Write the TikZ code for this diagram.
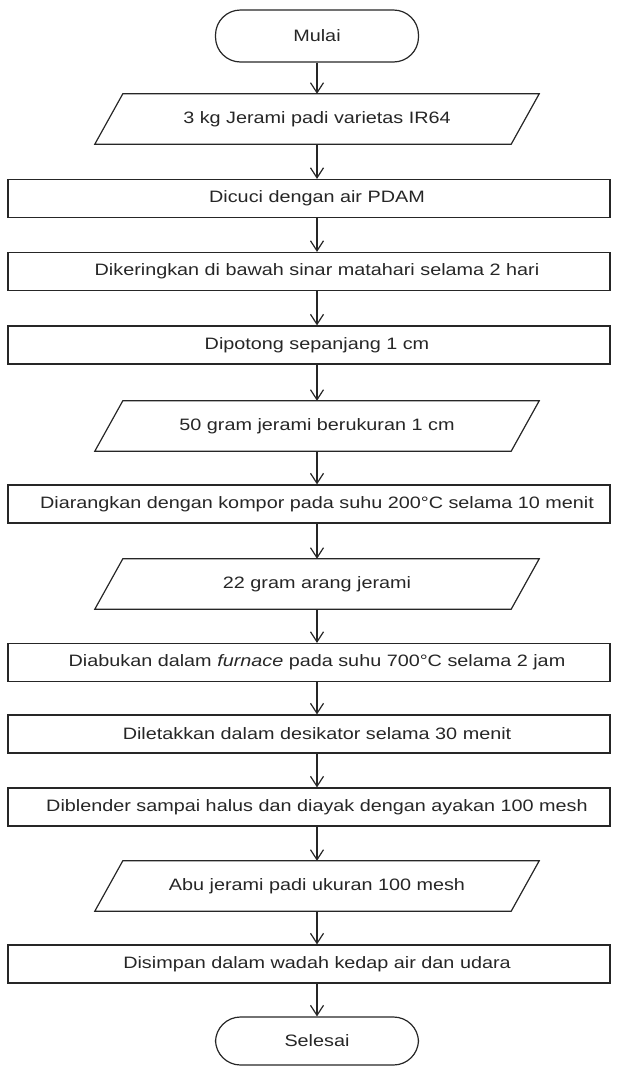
\documentclass[tikz,border=0pt]{standalone}
\usepackage{fontspec}
\setmainfont{Liberation Sans}[FakeStretch=1.2]
\usetikzlibrary{arrows.meta}
\begin{document}
\begin{tikzpicture}[x=1pt,y=-1pt,
  every node/.style={font=\fontsize{16.5}{20}\selectfont, text=black!85},
  term/.style={draw=black!85, line width=1.2pt, rounded corners=25pt, minimum width=203pt, minimum height=52pt, inner sep=0pt},
  procbox/.style={draw=black!85, line width=1.2pt, minimum width=602pt, minimum height=38pt, inner sep=0pt, execute at begin node={\hspace*{16pt}}},
  iobox/.style={minimum width=444pt, minimum height=50pt, inner sep=0pt},
  iodraw/.style={draw=black!85, line width=1.2pt},
  arr/.style={draw=black!85, line width=1.2pt, -{Straight Barb[length=10pt,width=13pt,line width=1.2pt]}}]
\useasboundingbox (0,0) rectangle (618,1066);
\node[term] (m) at (317,36) {Mulai};
\node[iobox] (p1) at (317,119) {3 kg Jerami padi varietas IR64};
\node[procbox] (r1) at (309,198.5) {Dicuci dengan air PDAM};
\node[procbox] (r2) at (309,271.5) {Dikeringkan di bawah sinar matahari selama 2 hari};
\node[procbox] (r3) at (309,345) {Dipotong sepanjang 1 cm};
\node[iobox] (p2) at (317,426) {50 gram jerami berukuran 1 cm};
\node[procbox] (r4) at (309,504) {Diarangkan dengan kompor pada suhu 200°C selama 10 menit};
\node[iobox] (p3) at (317,584) {22 gram arang jerami};
\node[procbox] (r5) at (309,662.5) {Diabukan dalam \textit{furnace} pada suhu 700°C selama 2 jam};
\node[procbox] (r6) at (309,734) {Diletakkan dalam desikator selama 30 menit};
\node[procbox] (r7) at (309,807) {Diblender sampai halus dan diayak dengan ayakan 100 mesh};
\node[iobox] (p4) at (317,886) {Abu jerami padi ukuran 100 mesh};
\node[procbox] (r8) at (309,964) {Disimpan dalam wadah kedap air dan udara};
\node[term, minimum height=48pt] (s) at (317,1041) {Selesai};
\foreach \p in {p1,p2,p3,p4}
  \draw[iodraw] (\p.south west) -- ([xshift=28pt]\p.north west) -- (\p.north east) -- ([xshift=-28pt]\p.south east) -- cycle;
\draw[arr] (m.south) -- (p1.north);
\draw[arr] (p1.south) -- (r1.north -| m);
\draw[arr] (r1.south -| m) -- (r2.north -| m);
\draw[arr] (r2.south -| m) -- (r3.north -| m);
\draw[arr] (r3.south -| m) -- (p2.north);
\draw[arr] (p2.south) -- (r4.north -| m);
\draw[arr] (r4.south -| m) -- (p3.north);
\draw[arr] (p3.south) -- (r5.north -| m);
\draw[arr] (r5.south -| m) -- (r6.north -| m);
\draw[arr] (r6.south -| m) -- (r7.north -| m);
\draw[arr] (r7.south -| m) -- (p4.north);
\draw[arr] (p4.south) -- (r8.north -| m);
\draw[arr] (r8.south -| m) -- (s.north);
\end{tikzpicture}
\end{document}
